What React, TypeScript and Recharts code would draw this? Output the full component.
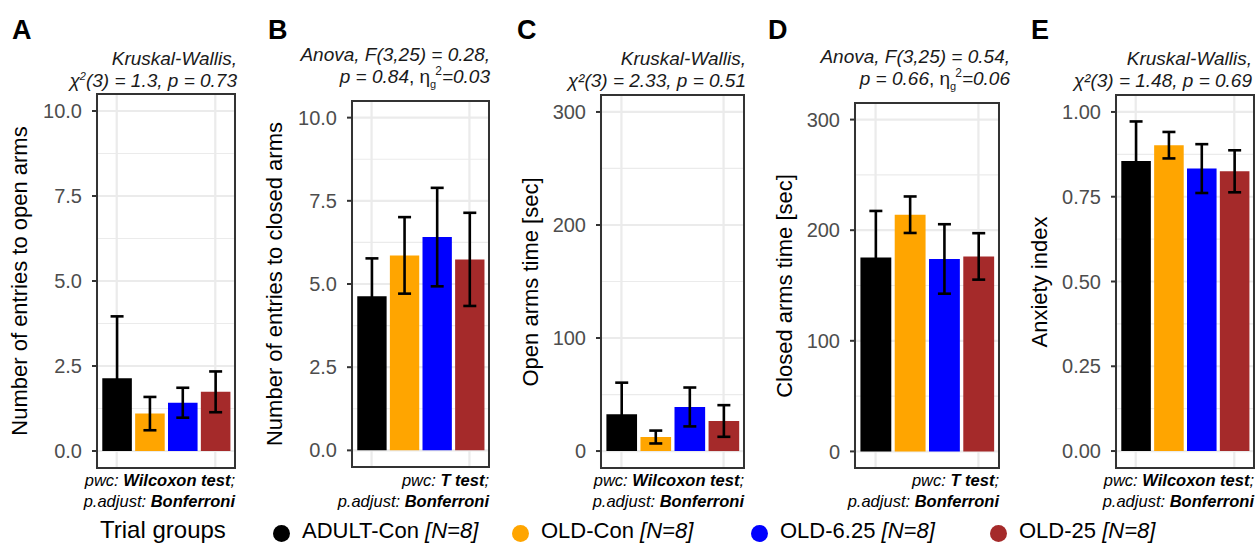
import React from 'react';
import { BarChart, Bar, XAxis, YAxis, CartesianGrid, ErrorBar, Cell } from 'recharts';

// groups shown in every panel
const groups = ['ADULT-Con', 'OLD-Con', 'OLD-6.25', 'OLD-25'];
const groupColors = ['#000000', '#FFA500', '#0000FF', '#A52A2A'];
const groupN = [8, 8, 8, 8];

// A: entries to open arms
const openEntriesMean = [2.14, 1.1, 1.42, 1.74];
const openEntriesErr = [1.82, 0.49, 0.44, 0.6];
// B: entries to closed arms
const closedEntriesMean = [4.63, 5.86, 6.41, 5.74];
const closedEntriesErr = [1.14, 1.15, 1.48, 1.4];
// C: open arms time
const openTimeMean = [32.5, 12.4, 39, 26.6];
const openTimeErr = [28, 5.7, 17.2, 14];
// D: closed arms time
const closedTimeMean = [175.4, 214, 174, 176.3];
const closedTimeErr = [42, 16.5, 31.4, 21];
// E: anxiety index
const anxietyMean = [0.855, 0.902, 0.833, 0.825];
const anxietyErr = [0.117, 0.039, 0.072, 0.062];

const countTicks = [0, 2.5, 5, 7.5, 10];
const countMinor = [1.25, 3.75, 6.25, 8.75];
const timeTicks = [0, 100, 200, 300];
const timeMinor = [50, 150, 250];
const indexTicks = [0, 0.25, 0.5, 0.75, 1];
const indexMinor = [0.125, 0.375, 0.625, 0.875];

const FONT = "'Liberation Sans', Arial, sans-serif";
const YW = 70;

type Box = { x: number; y: number; w: number; h: number };

interface PanelProps {
  letter: string;
  letterX: number;
  box: Box;
  means: number[];
  errs: number[];
  domain: [number, number];
  ticks: number[];
  minor: number[];
  digits: number;
  yTitle: string;
  yTitleX: number;
  subtitle: React.ReactNode;
  subTop: number;
  subRight: number;
  test: string;
}

const Eta = () => (
  <span style={{ fontStyle: 'normal' }}>
    η
    <span style={{ position: 'relative', fontSize: 11, top: 5 }}>g</span>
    <span style={{ position: 'relative', fontSize: 12, top: -8, marginLeft: -1 }}>2</span>
  </span>
);

function Panel(p: PanelProps) {
  const data = groups.map((g, i) => ({ group: g, mean: p.means[i], err: p.errs[i] }));
  const pad = p.box.w / 42;
  const barSize = (0.9 * (p.box.w - 2 * pad)) / 4;
  return (
    <>
      <div style={{ position: 'absolute', left: p.letterX, top: 17, fontSize: 27, lineHeight: '27px', fontWeight: 700 }}>
        {p.letter}
      </div>
      <div
        style={{
          position: 'absolute',
          right: 1255 - p.subRight,
          top: p.subTop,
          fontSize: 19,
          lineHeight: '22px',
          fontStyle: 'italic',
          textAlign: 'right',
          whiteSpace: 'nowrap',
          color: '#1a1a1a',
        }}
      >
        {p.subtitle}
      </div>
      <div
        style={{
          position: 'absolute',
          left: p.yTitleX,
          top: p.box.y + p.box.h / 2,
          transform: 'translate(-50%, -50%) rotate(-90deg)',
          fontSize: 22,
          whiteSpace: 'nowrap',
        }}
      >
        {p.yTitle}
      </div>
      <div style={{ position: 'absolute', left: p.box.x - YW, top: p.box.y }}>
        <BarChart width={YW + p.box.w} height={p.box.h} data={data} margin={{ top: 0, right: 0, bottom: 0, left: 0 }}>
          <CartesianGrid stroke="#EBEBEB" strokeWidth={1.2} horizontalValues={p.minor} vertical={false} />
          <CartesianGrid stroke="#EBEBEB" strokeWidth={2.2} horizontalValues={p.ticks} />
          <XAxis dataKey="group" hide padding={{ left: pad, right: pad }} />
          <YAxis
            type="number"
            domain={p.domain}
            ticks={p.ticks}
            allowDataOverflow
            width={YW}
            axisLine={false}
            tickSize={5}
            tickMargin={10}
            tickLine={{ stroke: '#333333', strokeWidth: 2 }}
            tick={{ fill: '#4D4D4D', fontSize: 20, fontFamily: FONT }}
            tickFormatter={(v: number) => v.toFixed(p.digits)}
          />
          <Bar dataKey="mean" barSize={barSize} isAnimationActive={false}>
            {data.map((d, i) => (
              <Cell key={d.group} fill={groupColors[i]} />
            ))}
            <ErrorBar dataKey="err" width={6.5} strokeWidth={2.6} stroke="#000" isAnimationActive={false} />
          </Bar>
        </BarChart>
      </div>
      <div
        style={{
          position: 'absolute',
          left: p.box.x - 1,
          top: p.box.y - 1,
          width: p.box.w + 2,
          height: p.box.h + 2,
          border: '2px solid #333333',
          boxSizing: 'border-box',
          pointerEvents: 'none',
        }}
      />
      <div
        style={{
          position: 'absolute',
          right: 1255 - (p.box.x + p.box.w),
          top: 470,
          fontSize: 16.5,
          lineHeight: '21px',
          fontStyle: 'italic',
          textAlign: 'right',
          whiteSpace: 'nowrap',
        }}
      >
        pwc: <b>{p.test}</b>;
        <br />
        p.adjust: <b>Bonferroni</b>
      </div>
    </>
  );
}

export default function App() {
  return (
    <div
      style={{
        position: 'absolute',
        left: 0,
        top: 0,
        width: 1255,
        height: 544,
        background: '#fff',
        fontFamily: FONT,
        color: '#000',
        overflow: 'hidden',
      }}
    >
      <Panel
        letter="A"
        letterX={12}
        box={{ x: 97, y: 94, w: 138, h: 374 }}
        means={openEntriesMean}
        errs={openEntriesErr}
        domain={[-0.5, 10.5]}
        ticks={countTicks}
        minor={countMinor}
        digits={1}
        yTitle="Number of entries to open arms"
        yTitleX={20}
        subTop={48}
        subRight={237}
        subtitle={
          <>
            Kruskal-Wallis,
            <br />
            χ<sup style={{ fontSize: 11, lineHeight: 0 }}>2</sup>(3) = 1.3, p = 0.73
          </>
        }
        test="Wilcoxon test"
      />
      <Panel
        letter="B"
        letterX={268}
        box={{ x: 352, y: 101, w: 137, h: 366 }}
        means={closedEntriesMean}
        errs={closedEntriesErr}
        domain={[-0.5, 10.5]}
        ticks={countTicks}
        minor={countMinor}
        digits={1}
        yTitle="Number of entries to closed arms"
        yTitleX={275}
        subTop={44}
        subRight={490}
        subtitle={
          <>
            Anova, F(3,25) = 0.28,
            <br />
            p = 0.84<span style={{ fontStyle: 'normal' }}>, </span>
            <Eta />=0.03
          </>
        }
        test="T test"
      />
      <Panel
        letter="C"
        letterX={517}
        box={{ x: 601, y: 95, w: 143, h: 373 }}
        means={openTimeMean}
        errs={openTimeErr}
        domain={[-15, 315]}
        ticks={timeTicks}
        minor={timeMinor}
        digits={0}
        yTitle="Open arms time [sec]"
        yTitleX={531}
        subTop={48}
        subRight={746}
        subtitle={
          <>
            Kruskal-Wallis,
            <br />
            χ²(3) = 2.33, p = 0.51
          </>
        }
        test="Wilcoxon test"
      />
      <Panel
        letter="D"
        letterX={768}
        box={{ x: 855, y: 103, w: 144, h: 365 }}
        means={closedTimeMean}
        errs={closedTimeErr}
        domain={[-15, 315]}
        ticks={timeTicks}
        minor={timeMinor}
        digits={0}
        yTitle="Closed arms time [sec]"
        yTitleX={785}
        subTop={46}
        subRight={1010}
        subtitle={
          <>
            Anova, F(3,25) = 0.54,
            <br />
            p = 0.66<span style={{ fontStyle: 'normal' }}>, </span>
            <Eta />=0.06
          </>
        }
        test="T test"
      />
      <Panel
        letter="E"
        letterX={1031}
        box={{ x: 1116, y: 95, w: 138, h: 373 }}
        means={anxietyMean}
        errs={anxietyErr}
        domain={[-0.05, 1.05]}
        ticks={indexTicks}
        minor={indexMinor}
        digits={2}
        yTitle="Anxiety index"
        yTitleX={1040}
        subTop={48}
        subRight={1252}
        subtitle={
          <>
            Kruskal-Wallis,
            <br />
            χ²(3) = 1.48, p = 0.69
          </>
        }
        test="Wilcoxon test"
      />

      {/* shared legend */}
      <div style={{ position: 'absolute', left: 100, top: 517, fontSize: 24, lineHeight: '26px', whiteSpace: 'nowrap' }}>
        Trial groups
      </div>
      {groups.map((g, i) => (
        <div key={g} style={{ position: 'absolute', left: 273 + i * 239, top: 518, height: 26, width: 239 }}>
          <div
            style={{
              position: 'absolute',
              left: 0,
              top: 6.5,
              width: 17,
              height: 17,
              borderRadius: '50%',
              background: groupColors[i],
            }}
          />
          <div style={{ position: 'absolute', left: 29, top: 0, fontSize: 22, lineHeight: '26px', whiteSpace: 'nowrap' }}>
            {g} <i>[N={groupN[i]}]</i>
          </div>
        </div>
      ))}
    </div>
  );
}
